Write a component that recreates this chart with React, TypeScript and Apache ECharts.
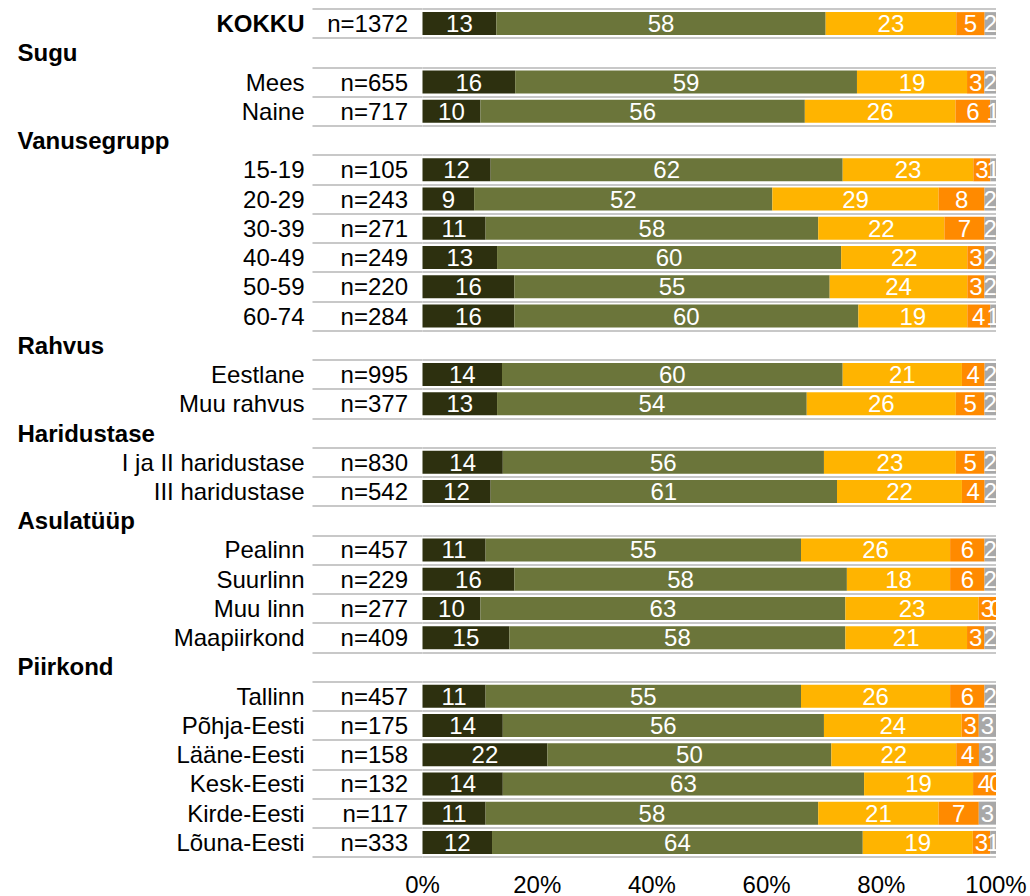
import React, { useEffect, useRef } from 'react';
import * as echarts from 'echarts';

const categories = [
  'KOKKU', 'Sugu', 'Mees', 'Naine', 'Vanusegrupp', '15-19', '20-29', '30-39', '40-49', '50-59', '60-74',
  'Rahvus', 'Eestlane', 'Muu rahvus', 'Haridustase', 'I ja II haridustase', 'III haridustase',
  'Asulatüüp', 'Pealinn', 'Suurlinn', 'Muu linn', 'Maapiirkond',
  'Piirkond', 'Tallinn', 'Põhja-Eesti', 'Lääne-Eesti', 'Kesk-Eesti', 'Kirde-Eesti', 'Lõuna-Eesti',
];
const groupHeaders = ['Sugu', 'Vanusegrupp', 'Rahvus', 'Haridustase', 'Asulatüüp', 'Piirkond'];
const totalLabel = 'KOKKU';
const sampleSizes = [1372, null, 655, 717, null, 105, 243, 271, 249, 220, 284, null, 995, 377, null, 830, 542, null, 457, 229, 277, 409, null, 457, 175, 158, 132, 117, 333];

const seg1 = [13, null, 16, 10, null, 12, 9, 11, 13, 16, 16, null, 14, 13, null, 14, 12, null, 11, 16, 10, 15, null, 11, 14, 22, 14, 11, 12];
const seg2 = [58, null, 59, 56, null, 62, 52, 58, 60, 55, 60, null, 60, 54, null, 56, 61, null, 55, 58, 63, 58, null, 55, 56, 50, 63, 58, 64];
const seg3 = [23, null, 19, 26, null, 23, 29, 22, 22, 24, 19, null, 21, 26, null, 23, 22, null, 26, 18, 23, 21, null, 26, 24, 22, 19, 21, 19];
const seg4 = [5, null, 3, 6, null, 3, 8, 7, 3, 3, 4, null, 4, 5, null, 5, 4, null, 6, 6, 3, 3, null, 6, 3, 4, 4, 7, 3];
const seg5 = [2, null, 2, 1, null, 1, 2, 2, 2, 2, 1, null, 2, 2, null, 2, 2, null, 2, 2, 0, 2, null, 2, 3, 3, 0, 3, 1];

const seriesNames = ['Väga hea', 'Pigem hea', 'Pigem halb', 'Väga halb', 'Ei oska öelda'];
const seriesColors = ['#2d300f', '#6b753a', '#ffb400', '#ff8a00', '#a8a8a8'];
const xTicks = [0, 20, 40, 60, 80, 100];

const FONT = "'Liberation Sans', Arial, sans-serif";
const FS = 24;

export default function App() {
  const ref = useRef<HTMLDivElement>(null);
  useEffect(() => {
    document.body.style.margin = '0';
    if (!ref.current) return;
    const chart = echarts.init(ref.current, undefined, { renderer: 'svg' });
    const raw = [seg1, seg2, seg3, seg4, seg5];
    const rowSums = categories.map((_, i) =>
      raw.reduce((s, arr) => s + (arr[i] == null ? 0 : (arr[i] as number)), 0)
    );
    const series = raw.map((arr, k) => ({
      name: seriesNames[k],
      type: 'bar',
      stack: 'all',
      yAxisIndex: 0,
      barWidth: 23,
      itemStyle: { color: seriesColors[k] },
      label: {
        show: true,
        position: 'inside',
        color: '#ffffff',
        fontSize: FS,
        fontFamily: FONT,
        formatter: (p: any) => (arr[p.dataIndex] == null ? '' : String(arr[p.dataIndex])),
      },
      data: arr.map((v, i) => (v == null ? null : ((v as number) / rowSums[i]) * 100)),
    }));
    chart.setOption({
      animation: false,
      textStyle: { fontFamily: FONT },
      grid: { left: 422.5, right: 34, top: 9, bottom: 38.5, containLabel: false },
      xAxis: {
        type: 'value',
        min: xTicks[0],
        max: xTicks[xTicks.length - 1],
        interval: xTicks[1] - xTicks[0],
        axisLine: { show: false },
        axisTick: { show: false },
        splitLine: { show: false },
        axisLabel: { formatter: '{value}%', fontSize: FS, color: '#000', margin: 15, fontFamily: FONT },
      },
      yAxis: [
        {
          type: 'category',
          inverse: true,
          data: categories,
          axisLine: { show: false },
          axisTick: { show: true, interval: 0, length: 110, lineStyle: { color: '#c8c8c8', width: 2 } },
          splitLine: { show: true, interval: 0, lineStyle: { color: '#c8c8c8', width: 2 } },
          axisLabel: {
            interval: 0,
            margin: 118,
            fontSize: FS,
            color: '#000',
            fontFamily: FONT,
            formatter: (v: string) =>
              groupHeaders.includes(v) ? `{h|${v}}` : v === totalLabel ? `{b|${v}}` : v,
            rich: {
              h: { fontWeight: 'bold', width: 287, align: 'left', fontSize: FS, color: '#000', fontFamily: FONT },
              b: { fontWeight: 'bold', fontSize: FS, color: '#000', fontFamily: FONT },
            },
          },
        },
        {
          type: 'category',
          inverse: true,
          position: 'left',
          data: categories,
          axisLine: { show: false },
          axisTick: { show: false },
          splitLine: { show: false },
          axisLabel: {
            interval: 0,
            margin: 14.5,
            fontSize: FS,
            color: '#000',
            fontFamily: FONT,
            formatter: (_v: string, i: number) => (sampleSizes[i] == null ? '' : 'n=' + sampleSizes[i]),
          },
        },
      ],
      series,
    });
    return () => chart.dispose();
  }, []);
  return <div ref={ref} style={{ width: 1030, height: 896 }} />;
}
